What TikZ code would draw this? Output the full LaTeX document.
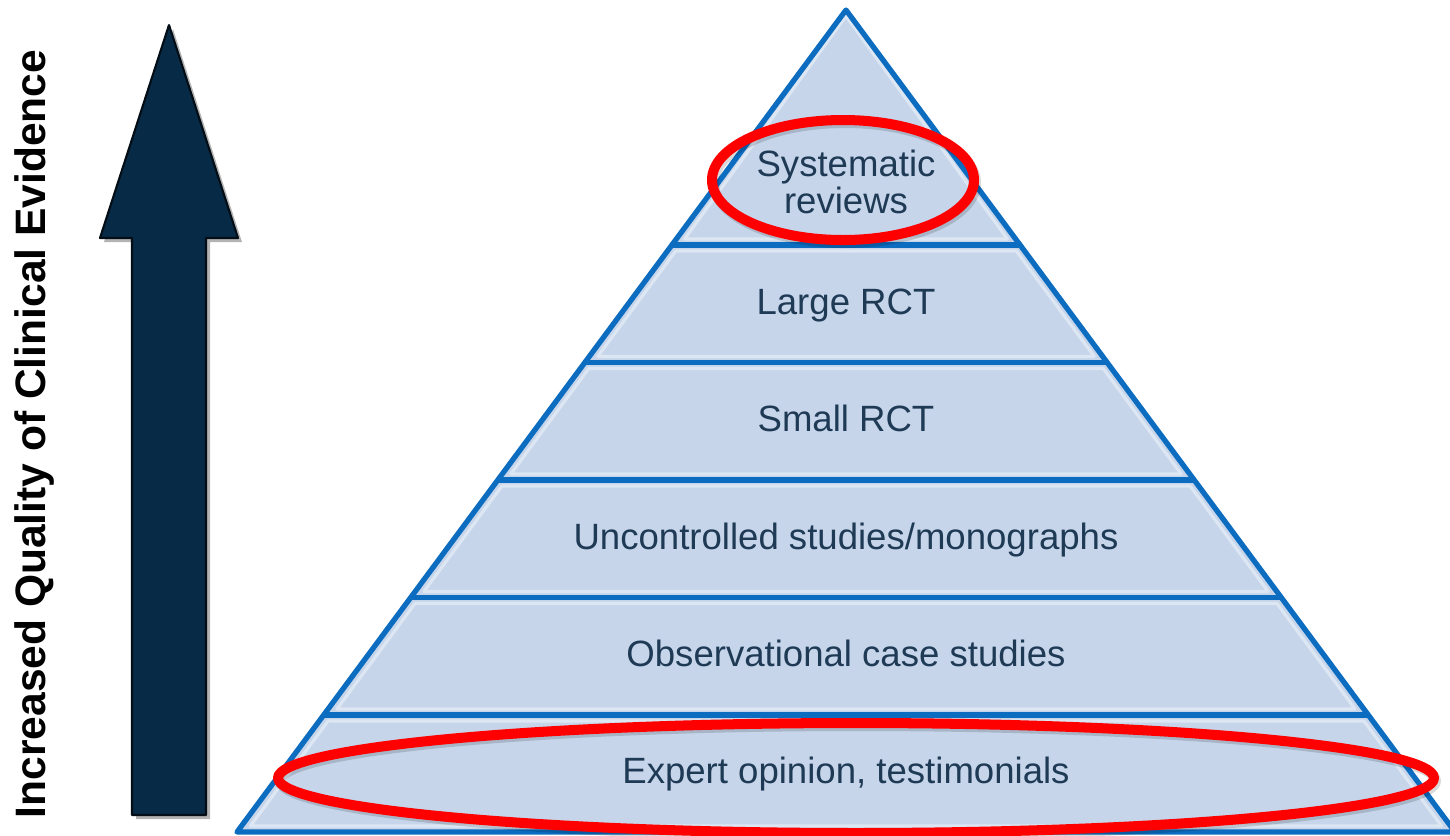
\documentclass[tikz,border=0pt]{standalone}
\usepackage{fontspec}
\setmainfont{Liberation Sans}
\definecolor{tierfill}{HTML}{C6D5EA}
\definecolor{tierline}{HTML}{0B6CC0}
\definecolor{tierlight}{HTML}{DDE6F3}
\definecolor{tiertext}{HTML}{1E3A55}
\definecolor{arrownavy}{HTML}{072A46}
\definecolor{ringred}{HTML}{FF0000}
\begin{document}
\begin{tikzpicture}[x=0.01cm,y=-0.01cm,line join=round,line cap=round,
  tier/.style={font=\fontsize{10.4}{10.3}\selectfont,text=tiertext,align=center,inner sep=0pt},
  ring/.style={draw=ringred,line width=2.85pt}]
			\def\ax{846}\def\ay{10}\def\sl{0.7397}
			\clip (0,0) rectangle (1450,835);
			% arrow with its shadow
			\fill[black!50,opacity=0.6] (136,819)--(136,242)--(104,242)--(173,29)--(242,242)--(210,242)--(210,819)--cycle;
			\filldraw[fill=arrownavy,draw=black!70!arrownavy,line width=0.6pt] (132,815)--(132,238)--(100,238)--(169,25)--(238,238)--(206,238)--(206,815)--cycle;
			\node[rotate=90,anchor=base,inner sep=0pt,font=\bfseries\fontsize{12.1}{14}\selectfont] (quality) at (45,434) {Increased Quality of Clinical Evidence};
			% pyramid
			\fill[tierfill] (\ax,\ay)--(237,832)--(1455,832)--cycle;
			\foreach \yt/\yb in {10/245,245/362.5,362.5/480,480/597.5,597.5/715,715/832}{
				\pgfmathsetmacro\wt{max(\sl*(\yt+6-\ay)-8,0)}
				\pgfmathsetmacro\wb{\sl*(\yb-6-\ay)-8}
				\draw[tierlight,line width=0.9pt] (\ax-\wt,\yt+6)--(\ax+\wt,\yt+6)--(\ax+\wb,\yb-6)--(\ax-\wb,\yb-6)--cycle;
			}
			\draw[tierline,line width=1.5pt] (\ax,\ay)--(237,832)--(1455,832)--cycle;
			\foreach \y in {245,362.5,480,597.5,715}{
				\pgfmathsetmacro\w{\sl*(\y-\ay)}
				\draw[tierline,line width=1.5pt] (\ax-\w,\y)--(\ax+\w,\y);
			}
			\node[tier] (sysrev) at (\ax,182) {Systematic\\reviews};
			\node[tier,anchor=base] (largerct) at (\ax,314) {Large RCT};
			\node[tier,anchor=base] (smallrct) at (\ax,431) {Small RCT};
			\node[tier,anchor=base] (uncontr) at (\ax,549) {Uncontrolled studies/monographs};
			\node[tier,anchor=base] (observ) at (\ax,666) {Observational case studies};
			\node[tier,anchor=base] (expert) at (\ax,783) {Expert opinion, testimonials};
			% red rings
			\draw[ring,draw=black,opacity=0.15] (845,183) ellipse (131 and 60) (858,781) ellipse (578 and 55);
			\draw[ring] (843,180) ellipse (131 and 60);
			\draw[ring] (856,778) ellipse (578 and 55);
\end{tikzpicture}
\end{document}
